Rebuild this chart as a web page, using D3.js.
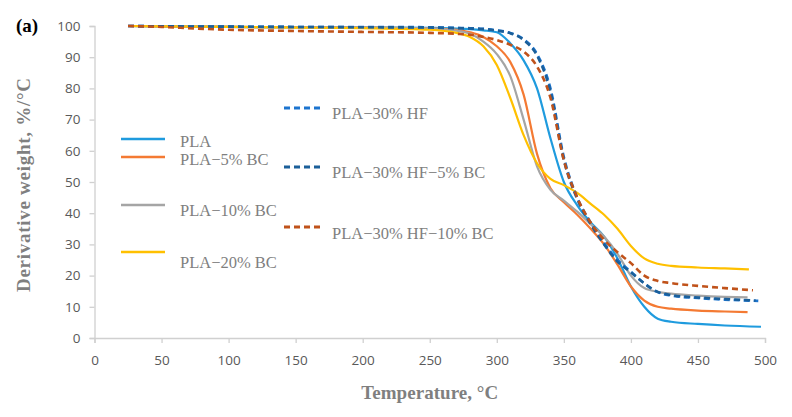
<!DOCTYPE html>
<html lang="en">
<head>
<meta charset="utf-8">
<title>Derivative weight vs temperature</title>
<script src="https://cdn.jsdelivr.net/npm/d3@7"></script>
<style>
  body { margin: 0; background: #fff; }
</style>
</head>
<body>
<script>
// series data (temperature in °C, value in %/°C)
var plaT   = [25, 50, 100, 150, 200, 250, 270, 280, 290, 300, 310, 320, 330, 340, 350, 360, 370, 380, 390, 400, 410, 420, 430, 450, 470, 497];
var plaV   = [100, 99.9, 99.7, 99.6, 99.6, 99.4, 99.2, 99, 98.6, 98, 94.5, 89, 80, 64, 50, 42.5, 37, 32.5, 25.5, 16.5, 10, 6.2, 5.2, 4.5, 4.0, 3.6];

var bc5T   = [25, 50, 100, 150, 200, 250, 270, 280, 290, 300, 310, 320, 330, 340, 350, 360, 370, 380, 390, 400, 410, 420, 430, 450, 470, 487];
var bc5V   = [100, 99.9, 99.7, 99.6, 99.5, 99.2, 98.8, 98, 96.5, 93.5, 88.5, 78, 59, 48, 43.5, 39.5, 35, 30, 23.5, 16.5, 12, 10, 9.4, 8.8, 8.5, 8.3];

var bc10T  = [25, 50, 100, 150, 200, 250, 270, 280, 290, 300, 310, 320, 330, 340, 350, 360, 370, 380, 390, 400, 410, 420, 430, 450, 470, 487];
var bc10V  = [100, 99.9, 99.7, 99.6, 99.5, 99.2, 98.5, 97.5, 95, 91, 84, 70, 55, 47.5, 44, 40.5, 36.5, 32.5, 27, 20, 16, 14.8, 14.2, 13.6, 13.2, 13];

var bc20T  = [25, 50, 100, 150, 200, 250, 270, 280, 290, 300, 310, 320, 330, 340, 350, 360, 370, 380, 390, 400, 410, 420, 430, 450, 470, 488];
var bc20V  = [100, 99.9, 99.7, 99.5, 99.3, 98.8, 97.8, 96.5, 93.5, 87.5, 77, 65, 56, 51, 49, 46.5, 43, 39.5, 35, 29.5, 25.5, 23.8, 23.1, 22.6, 22.3, 22];

var hfT    = [25, 50, 100, 150, 200, 250, 270, 280, 290, 300, 310, 320, 330, 340, 350, 360, 370, 380, 390, 400, 410, 420, 430, 450, 470, 495];
var hfV    = [100, 99.9, 99.8, 99.7, 99.7, 99.6, 99.4, 99.3, 99.1, 98.6, 97.8, 95.8, 91, 80, 58, 45, 37, 30.5, 25, 21.3, 17.5, 14.7, 13.6, 12.8, 12.3, 11.9];

var hf5T   = [25, 50, 100, 150, 200, 250, 270, 280, 290, 300, 310, 320, 330, 340, 350, 360, 370, 380, 390, 400, 410, 420, 430, 450, 470, 493];
var hf5V   = [100, 99.9, 99.8, 99.7, 99.6, 99.5, 99.3, 99.2, 99, 98.5, 97.7, 95.5, 90.5, 79, 57, 44.5, 36.5, 30, 24.5, 21, 17.5, 14.8, 13.8, 13, 12.5, 12];

var hf10T  = [25, 50, 75, 100, 150, 200, 250, 270, 280, 290, 300, 310, 320, 330, 340, 350, 360, 370, 380, 390, 400, 410, 420, 430, 450, 470, 491];
var hf10V  = [100, 99.7, 99.2, 98.8, 98.4, 98.1, 97.8, 97.5, 97.2, 96.5, 95.5, 94, 91.8, 87, 77, 57, 45, 37, 31.5, 27.5, 24, 20, 18.3, 17.6, 16.7, 16, 15.3];

var seriesNames = ["PLA", "PLA\u22125% BC", "PLA\u221210% BC", "PLA\u221220% BC",
                   "PLA\u221230% HF", "PLA\u221230% HF\u22125% BC", "PLA\u221230% HF\u221210% BC"];
var xTicks = [0, 50, 100, 150, 200, 250, 300, 350, 400, 450, 500];
var yTicks = [0, 10, 20, 30, 40, 50, 60, 70, 80, 90, 100];

var W = 792, H = 417;
var margin = {top: 26, right: 27, bottom: 79, left: 94.5};

var svg = d3.select("body").append("svg")
    .attr("width", W)
    .attr("height", H);

var x = d3.scaleLinear().domain([0, 500]).range([margin.left, W - margin.right]);
var y = d3.scaleLinear().domain([0, 100]).range([H - margin.bottom, margin.top]);

var series = [
  {name: seriesNames[0], t: plaT,  v: plaV,  color: "#1F9BDE", dash: null},
  {name: seriesNames[1], t: bc5T,  v: bc5V,  color: "#F47A33", dash: null},
  {name: seriesNames[2], t: bc10T, v: bc10V, color: "#A5A5A5", dash: null},
  {name: seriesNames[3], t: bc20T, v: bc20V, color: "#FFC000", dash: null},
  {name: seriesNames[4], t: hfT,   v: hfV,   color: "#1C74CF", dash: "6,4"},
  {name: seriesNames[5], t: hf5T,  v: hf5V,  color: "#1B5F99", dash: "6,4"},
  {name: seriesNames[6], t: hf10T, v: hf10V, color: "#C0521A", dash: "6,4"}
];

// axes
var xAxis = svg.append("g")
    .attr("transform", "translate(0," + y(0) + ")")
    .call(d3.axisBottom(x).tickValues(xTicks).tickSize(5).tickPadding(12));
var yAxis = svg.append("g")
    .attr("transform", "translate(" + x(0) + ",0)")
    .call(d3.axisLeft(y).tickValues(yTicks).tickSize(5).tickPadding(9));

[xAxis, yAxis].forEach(function(a) {
  a.select(".domain").attr("stroke", "#D0D0D0").attr("stroke-width", 1.3);
  a.selectAll(".tick line").attr("stroke", "#D0D0D0").attr("stroke-width", 1.3);
  a.selectAll(".tick text")
    .attr("fill", "#595959")
    .style("font-family", "'Open Sans', 'Liberation Sans', sans-serif")
    .style("font-size", "13.5px");
});

// lines
var line = d3.line()
    .x(function(d) { return x(d[0]); })
    .y(function(d) { return y(d[1]); })
    .curve(d3.curveMonotoneX);

svg.append("g").selectAll("path")
  .data(series)
  .enter()
  .append("path")
  .attr("d", function(s) { return line(d3.zip(s.t, s.v)); })
  .attr("fill", "none")
  .attr("stroke", function(s) { return s.color; })
  .attr("stroke-width", function(s) { return s.dash ? 2.6 : 2.2; })
  .attr("stroke-dasharray", function(s) { return s.dash; });

// legend
var legendPos = [
  {lx: 121, ly: 139, ty: 141},
  {lx: 121, ly: 157, ty: 159},
  {lx: 121, ly: 205, ty: 210},
  {lx: 121, ly: 252, ty: 262},
  {lx: 284, ly: 108, ty: 113},
  {lx: 284, ly: 167, ty: 172},
  {lx: 284, ly: 227, ty: 233}
];

var legend = svg.append("g").selectAll("g")
  .data(series)
  .enter()
  .append("g");

legend.append("line")
  .attr("x1", function(s, i) { return legendPos[i].lx; })
  .attr("x2", function(s, i) { return legendPos[i].lx + (s.dash ? 39 : 44); })
  .attr("y1", function(s, i) { return legendPos[i].ly; })
  .attr("y2", function(s, i) { return legendPos[i].ly; })
  .attr("stroke", function(s) { return s.color; })
  .attr("stroke-width", function(s) { return s.dash ? 2.8 : 2.4; })
  .attr("stroke-dasharray", function(s) { return s.dash; });

legend.append("text")
  .attr("x", function(s, i) { return legendPos[i].lx + (s.dash ? 48 : 59); })
  .attr("y", function(s, i) { return legendPos[i].ty; })
  .attr("dy", "0.35em")
  .attr("fill", "#7F7F7F")
  .style("font-family", "'Liberation Serif', 'DejaVu Serif', serif")
  .style("font-size", "16.5px")
  .text(function(s) { return s.name; });

// axis titles
svg.append("text")
  .attr("x", x(250))
  .attr("y", 399)
  .attr("text-anchor", "middle")
  .attr("textLength", 137)
  .attr("fill", "#7F7F7F")
  .style("font-family", "'Liberation Serif', 'DejaVu Serif', serif")
  .style("font-weight", "bold")
  .style("font-size", "19px")
  .text("Temperature, \u00B0C");

svg.append("text")
  .attr("transform", "translate(30,185) rotate(-90)")
  .attr("text-anchor", "middle")
  .attr("textLength", 214)
  .attr("fill", "#7F7F7F")
  .style("font-family", "'Liberation Serif', 'DejaVu Serif', serif")
  .style("font-weight", "bold")
  .style("font-size", "19px")
  .text("Derivative weight, %/\u00B0C");

// panel label
svg.append("text")
  .attr("x", 16)
  .attr("y", 32)
  .attr("fill", "#000")
  .style("font-family", "'Liberation Serif', 'DejaVu Serif', serif")
  .style("font-weight", "bold")
  .style("font-size", "19px")
  .text("(a)");
</script>
</body>
</html>
